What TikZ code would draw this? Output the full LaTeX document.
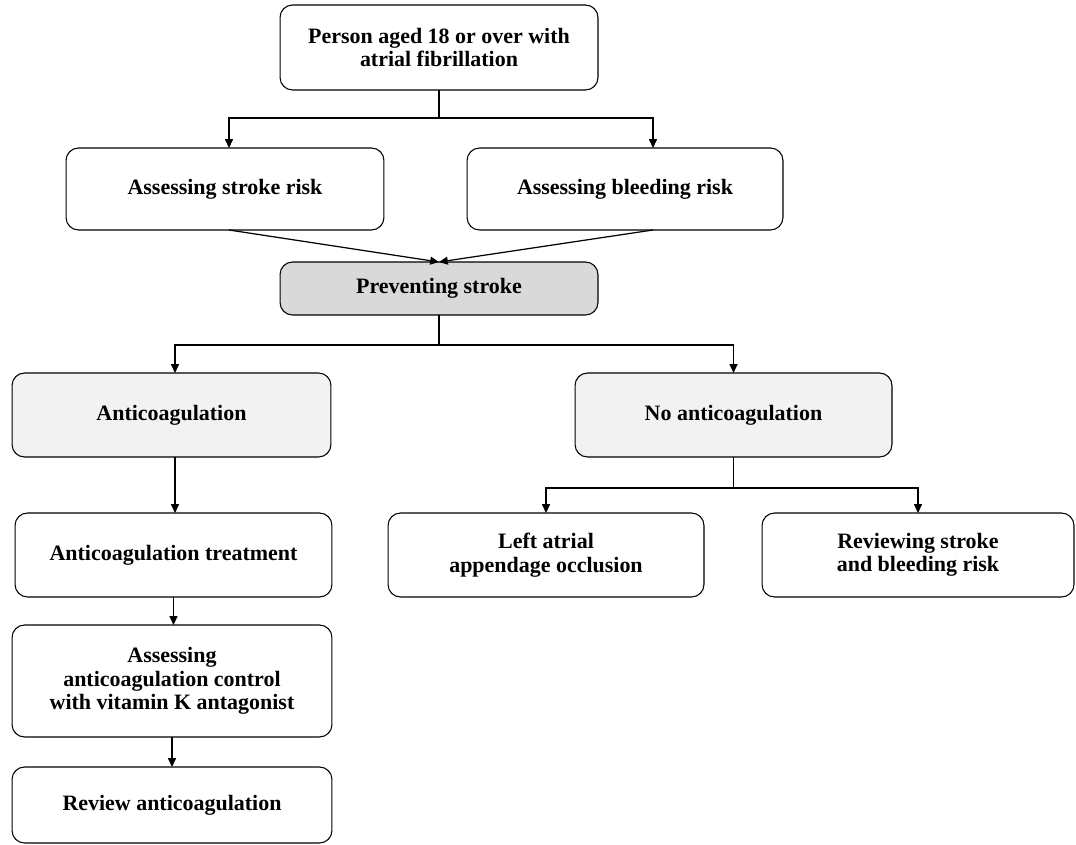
\documentclass[tikz,border=0pt]{standalone}
\usepackage{fontspec}
\setmainfont{Liberation Serif}
\usepackage{xcolor}
\usetikzlibrary{arrows, arrows.meta}
\usetikzlibrary{calc}
\definecolor{shadegrey}{HTML}{D9D9D9}
\definecolor{palegrey}{HTML}{F2F2F2}
\tikzset{
    box/.style={draw=black, rounded corners=0.25cm, align=center, inner sep=2pt, outer sep=0pt, line width=0.6pt, font=\bfseries\fontsize{12.5}{13.4}\selectfont},
    link/.style={black, line width=0.7pt, -{Triangle[length=5pt, width=4.5pt]}}
}

\begin{document}
\begin{tikzpicture}[x=0.02cm, y=-0.02cm]
    \useasboundingbox (0,0) rectangle (1076,845);
    \node[box, minimum width=6.36cm, minimum height=1.7cm] (person) at (439,47.5) {Person aged 18 or over with\\atrial fibrillation};
    \node[box, minimum width=6.36cm, minimum height=1.64cm] (stroke) at (225,189) {Assessing stroke risk};
    \node[box, minimum width=6.32cm, minimum height=1.64cm] (bleed) at (625,189) {Assessing bleeding risk};
    \node[box, fill=shadegrey, minimum width=6.36cm, minimum height=1.06cm] (prevent) at (439,288.5) {Preventing stroke};
    \node[box, fill=palegrey, minimum width=6.38cm, minimum height=1.68cm] (anti) at (171.5,415) {Anticoagulation};
    \node[box, fill=palegrey, minimum width=6.34cm, minimum height=1.68cm] (noanti) at (733.5,415) {No anticoagulation};
    \node[box, minimum width=6.34cm, minimum height=1.68cm] (treat) at (173.5,555) {Anticoagulation treatment};
    \node[box, minimum width=6.32cm, minimum height=1.68cm] (occlusion) at (546,555) {Left atrial\\appendage occlusion};
    \node[box, minimum width=6.24cm, minimum height=1.68cm] (reviewrisk) at (918,555) {Reviewing stroke\\and bleeding risk};
    \node[box, minimum width=6.4cm, minimum height=2.24cm] (control) at (172,681) {Assessing\\anticoagulation control\\with vitamin K antagonist};
    \node[box, minimum width=6.4cm, minimum height=1.52cm] (reviewanti) at (172,805) {Review anticoagulation};

    \draw[link] (person.south) -- ++(0,28) -| ([xshift=0.08cm]stroke.north);
    \draw[link] (person.south) -- ++(0,28) -| ([xshift=0.56cm]bleed.north);
    \draw[link] ([xshift=0.08cm]stroke.south) -- (prevent.north);
    \draw[link] ([xshift=0.56cm]bleed.south) -- (prevent.north);
    \draw[link] (prevent.south) -- ++(0,30) -| ([xshift=0.07cm]anti.north);
    \draw[link] (prevent.south) -- ++(0,30) -| (noanti.north);
    \draw[link] ([xshift=0.07cm]anti.south) -- ([xshift=0.07cm]anti.south |- treat.north);
    \draw[link] (noanti.south) -- ++(0,31) -| (occlusion.north);
    \draw[link] (noanti.south) -- ++(0,31) -| (reviewrisk.north);
    \draw[link] (treat.south) -- (treat.south |- control.north);
    \draw[link] (control.south) -- (control.south |- reviewanti.north);
\end{tikzpicture}
\end{document}
